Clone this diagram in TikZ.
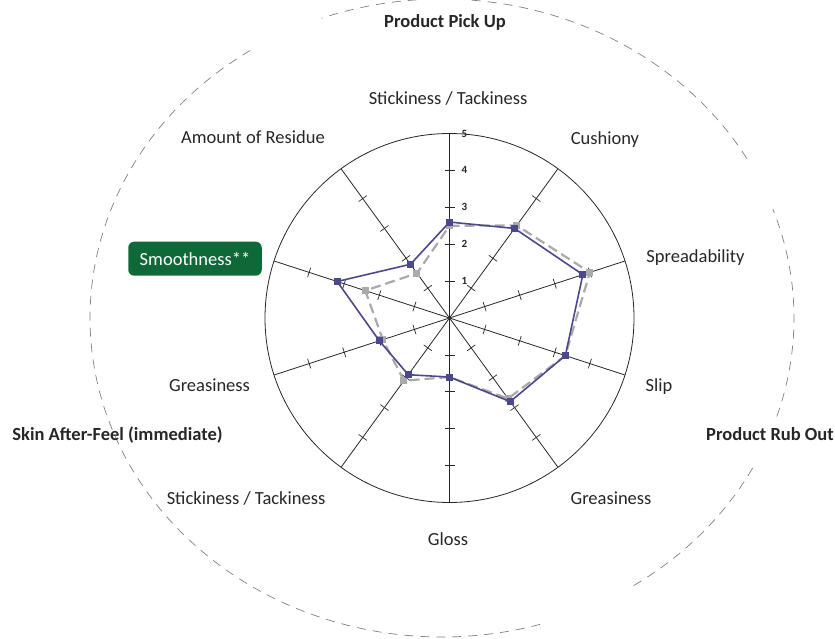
\documentclass[tikz,border=0pt]{standalone}
\usepackage{fontspec}
\setmainfont{Carlito}
\usetikzlibrary{calc}
\definecolor{serA}{RGB}{75,72,140}
\definecolor{serB}{RGB}{170,170,170}
\definecolor{smgreen}{RGB}{15,104,56}
\definecolor{txt}{RGB}{38,38,38}
\begin{document}
\begin{tikzpicture}[x=1pt,y=1pt,
  lbl/.style={font=\fontsize{18.5}{22}\selectfont, text=txt, anchor=base, inner sep=0pt},
  cat/.style={font=\fontsize{18.5}{22}\selectfont\bfseries, text=txt, anchor=base, inner sep=0pt},
  num/.style={font=\fontsize{11}{13}\selectfont\bfseries, text=txt, inner sep=0pt},
  spoke/.style={line width=0.8pt, draw=txt},
  tickmark/.style={line width=0.7pt, draw=txt},
  outer/.style={draw=gray, line width=0.7pt, dash pattern=on 9pt off 7pt},
  serone/.style={line width=1.6pt, draw=serA, line join=round},
  sertwo/.style={line width=2.2pt, draw=serB, dash pattern=on 10pt off 5pt, line join=round},
  mkone/.style={rectangle, fill=serA, minimum size=7pt, inner sep=0pt},
  mktwo/.style={rectangle, fill=serB, minimum size=7pt, inner sep=0pt},
  badge/.style={rectangle, fill=smgreen, rounded corners=6pt, minimum width=133.5pt, minimum height=34pt, inner sep=0pt, text=white, font=\fontsize{18.5}{22}\selectfont}
]
\useasboundingbox (0,0) rectangle (835,638);
\coordinate (C) at (449.5,320);
\coordinate (O) at (442,320);

% outer dashed arcs
\draw[outer] plot[domain=30:110, samples=80] ({442+352*cos(\x)},{320+319*sin(\x)});
\draw[outer] plot[domain=-57:-28, samples=40] ({442+352*cos(\x)},{320+319*sin(\x)});
\draw[outer] plot[domain=-18:20, samples=50] ({442+352*cos(\x)},{320+319*sin(\x)});
\draw[outer] plot[domain=123:287, samples=160] ({442+352*cos(\x)},{320+319*sin(\x)});

% ring and spokes
\node[circle, draw=txt, line width=0.8pt, minimum size=369pt, inner sep=0pt] (ring) at (C) {};
\foreach \i in {0,...,9}{
  \coordinate (E\i) at ($(C)+({90-36*\i}:184.5)$);
  \draw[spoke] (C) -- (E\i);
  \foreach \k in {1,...,4}{
    \coordinate (T\i-\k) at ($(C)+({90-36*\i}:{36.9*\k})$);
    \draw[tickmark] ($(T\i-\k)+({180-36*\i}:5)$) -- ($(T\i-\k)+({-36*\i}:5)$);
  }
}

% scale numbers
\foreach \k in {1,...,5}{
  \node[num] (n\k) at (464.5,{320+36.9*\k}) {\k};
}

% gray series
\foreach \v [count=\i from 0] in {2.5,3.1,4.0,3.3,2.7,1.6,2.1,1.9,2.4,1.5}{
  \coordinate (gp\i) at ($(C)+({90-36*\i}:{36.9*\v})$);
}
\draw[sertwo] (gp0) -- (gp1) -- (gp2) -- (gp3) -- (gp4) -- (gp5) -- (gp6) -- (gp7) -- (gp8) -- (gp9) -- cycle;
\foreach \i in {0,...,9}{ \node[mktwo] (g\i) at (gp\i) {}; }

% blue series
\foreach \v [count=\i from 0] in {2.6,3.0,3.8,3.3,2.8,1.6,1.9,2.0,3.2,1.8}{
  \coordinate (bp\i) at ($(C)+({90-36*\i}:{36.9*\v})$);
}
\draw[serone] (bp0) -- (bp1) -- (bp2) -- (bp3) -- (bp4) -- (bp5) -- (bp6) -- (bp7) -- (bp8) -- (bp9) -- cycle;
\foreach \i in {0,...,9}{ \node[mkone] (b\i) at (bp\i) {}; }

% axis labels
\node[lbl] (l0) at (448,533) {Stickiness / Tackiness};
\node[lbl] (l1) at (605,493) {Cushiony};
\node[lbl] (l2) at (695.5,375) {Spreadability};
\node[lbl] (l3) at (659,247) {Slip};
\node[lbl] (l4) at (611,134) {Greasiness};
\node[lbl] (l5) at (448,93) {Gloss};
\node[lbl] (l6) at (246,134) {Stickiness / Tackiness};
\node[lbl] (l7) at (209.5,247) {Greasiness};
\node[badge] (l8) at (195,379.3) {Smoothness**};
\node[lbl] (l9) at (253,494) {Amount of Residue};

% category labels
\node[cat] (c1) at (445,610) {Product Pick Up};
\node[cat] (c2) at (770,198) {Product Rub Out};
\node[cat] (c3) at (117.5,197.5) {Skin After-Feel (immediate)};
\end{tikzpicture}
\end{document}
